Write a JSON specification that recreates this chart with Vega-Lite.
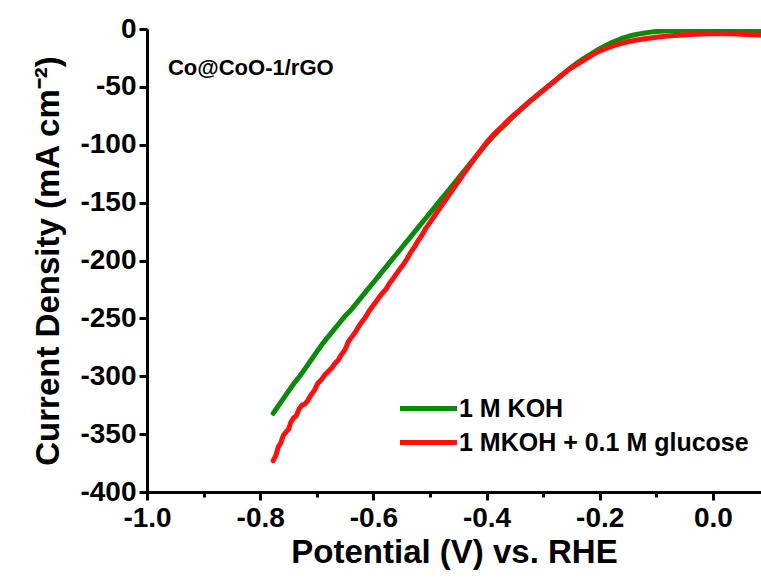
{
  "$schema": "https://vega.github.io/schema/vega-lite/v6.json",
  "width": 614,
  "height": 463,
  "autosize": {"type": "none"},
  "padding": {"left": 147, "top": 29, "right": 0, "bottom": 88},
  "background": "white",
  "config": {
    "view": {"stroke": null},
    "font": "Liberation Sans",
    "axis": {"grid": false, "domainColor": "black", "domainWidth": 3, "tickColor": "black", "tickWidth": 3,
      "labelFont": "Liberation Sans", "labelFontWeight": "bold", "labelFontSize": 28, "labelColor": "black",
      "titleFont": "Liberation Sans", "titleFontWeight": "bold", "titleFontSize": 33, "titleColor": "black"}
  },
  "datasets": {
    "curves": [
      {"V": -0.777, "j": -332, "s": "1 M KOH"},
      {"V": -0.770, "j": -327, "s": "1 M KOH"},
      {"V": -0.760, "j": -320, "s": "1 M KOH"},
      {"V": -0.750, "j": -313, "s": "1 M KOH"},
      {"V": -0.740, "j": -306, "s": "1 M KOH"},
      {"V": -0.730, "j": -300, "s": "1 M KOH"},
      {"V": -0.720, "j": -293, "s": "1 M KOH"},
      {"V": -0.710, "j": -286, "s": "1 M KOH"},
      {"V": -0.700, "j": -279, "s": "1 M KOH"},
      {"V": -0.690, "j": -272, "s": "1 M KOH"},
      {"V": -0.680, "j": -266, "s": "1 M KOH"},
      {"V": -0.670, "j": -260, "s": "1 M KOH"},
      {"V": -0.660, "j": -254, "s": "1 M KOH"},
      {"V": -0.650, "j": -248, "s": "1 M KOH"},
      {"V": -0.640, "j": -243, "s": "1 M KOH"},
      {"V": -0.630, "j": -237, "s": "1 M KOH"},
      {"V": -0.620, "j": -231, "s": "1 M KOH"},
      {"V": -0.610, "j": -225, "s": "1 M KOH"},
      {"V": -0.600, "j": -219, "s": "1 M KOH"},
      {"V": -0.590, "j": -213, "s": "1 M KOH"},
      {"V": -0.580, "j": -207, "s": "1 M KOH"},
      {"V": -0.570, "j": -201, "s": "1 M KOH"},
      {"V": -0.560, "j": -195, "s": "1 M KOH"},
      {"V": -0.550, "j": -189, "s": "1 M KOH"},
      {"V": -0.540, "j": -183, "s": "1 M KOH"},
      {"V": -0.530, "j": -177, "s": "1 M KOH"},
      {"V": -0.520, "j": -171, "s": "1 M KOH"},
      {"V": -0.510, "j": -165, "s": "1 M KOH"},
      {"V": -0.500, "j": -159, "s": "1 M KOH"},
      {"V": -0.490, "j": -153, "s": "1 M KOH"},
      {"V": -0.480, "j": -147, "s": "1 M KOH"},
      {"V": -0.470, "j": -141, "s": "1 M KOH"},
      {"V": -0.460, "j": -135, "s": "1 M KOH"},
      {"V": -0.450, "j": -129, "s": "1 M KOH"},
      {"V": -0.440, "j": -123, "s": "1 M KOH"},
      {"V": -0.430, "j": -117, "s": "1 M KOH"},
      {"V": -0.420, "j": -111, "s": "1 M KOH"},
      {"V": -0.410, "j": -105, "s": "1 M KOH"},
      {"V": -0.400, "j": -99, "s": "1 M KOH"},
      {"V": -0.390, "j": -93.5, "s": "1 M KOH"},
      {"V": -0.380, "j": -88.5, "s": "1 M KOH"},
      {"V": -0.370, "j": -84, "s": "1 M KOH"},
      {"V": -0.360, "j": -79, "s": "1 M KOH"},
      {"V": -0.350, "j": -74.5, "s": "1 M KOH"},
      {"V": -0.340, "j": -70, "s": "1 M KOH"},
      {"V": -0.330, "j": -65.5, "s": "1 M KOH"},
      {"V": -0.320, "j": -61, "s": "1 M KOH"},
      {"V": -0.310, "j": -57, "s": "1 M KOH"},
      {"V": -0.300, "j": -53, "s": "1 M KOH"},
      {"V": -0.290, "j": -49, "s": "1 M KOH"},
      {"V": -0.280, "j": -45, "s": "1 M KOH"},
      {"V": -0.270, "j": -41, "s": "1 M KOH"},
      {"V": -0.260, "j": -37, "s": "1 M KOH"},
      {"V": -0.250, "j": -33, "s": "1 M KOH"},
      {"V": -0.240, "j": -29.5, "s": "1 M KOH"},
      {"V": -0.230, "j": -26, "s": "1 M KOH"},
      {"V": -0.220, "j": -23, "s": "1 M KOH"},
      {"V": -0.210, "j": -20, "s": "1 M KOH"},
      {"V": -0.200, "j": -17, "s": "1 M KOH"},
      {"V": -0.190, "j": -14.5, "s": "1 M KOH"},
      {"V": -0.180, "j": -12, "s": "1 M KOH"},
      {"V": -0.170, "j": -10, "s": "1 M KOH"},
      {"V": -0.160, "j": -8, "s": "1 M KOH"},
      {"V": -0.150, "j": -6.5, "s": "1 M KOH"},
      {"V": -0.140, "j": -5.2, "s": "1 M KOH"},
      {"V": -0.130, "j": -4.2, "s": "1 M KOH"},
      {"V": -0.120, "j": -3.4, "s": "1 M KOH"},
      {"V": -0.110, "j": -2.7, "s": "1 M KOH"},
      {"V": -0.100, "j": -2.1, "s": "1 M KOH"},
      {"V": -0.080, "j": -1.5, "s": "1 M KOH"},
      {"V": -0.060, "j": -1.2, "s": "1 M KOH"},
      {"V": -0.040, "j": -1.0, "s": "1 M KOH"},
      {"V": -0.020, "j": -0.9, "s": "1 M KOH"},
      {"V": 0.000, "j": -1.0, "s": "1 M KOH"},
      {"V": 0.020, "j": -1.2, "s": "1 M KOH"},
      {"V": 0.040, "j": -1.5, "s": "1 M KOH"},
      {"V": 0.060, "j": -1.8, "s": "1 M KOH"},
      {"V": 0.085, "j": -2.2, "s": "1 M KOH"},
      {"V": -0.777, "j": -373, "s": "1 MKOH + 0.1 M glucose"},
      {"V": -0.772, "j": -368, "s": "1 MKOH + 0.1 M glucose"},
      {"V": -0.768, "j": -361, "s": "1 MKOH + 0.1 M glucose"},
      {"V": -0.764, "j": -358, "s": "1 MKOH + 0.1 M glucose"},
      {"V": -0.759, "j": -351, "s": "1 MKOH + 0.1 M glucose"},
      {"V": -0.754, "j": -348, "s": "1 MKOH + 0.1 M glucose"},
      {"V": -0.750, "j": -346, "s": "1 MKOH + 0.1 M glucose"},
      {"V": -0.746, "j": -340, "s": "1 MKOH + 0.1 M glucose"},
      {"V": -0.741, "j": -336, "s": "1 MKOH + 0.1 M glucose"},
      {"V": -0.736, "j": -334, "s": "1 MKOH + 0.1 M glucose"},
      {"V": -0.731, "j": -328, "s": "1 MKOH + 0.1 M glucose"},
      {"V": -0.726, "j": -325, "s": "1 MKOH + 0.1 M glucose"},
      {"V": -0.721, "j": -324, "s": "1 MKOH + 0.1 M glucose"},
      {"V": -0.716, "j": -321, "s": "1 MKOH + 0.1 M glucose"},
      {"V": -0.710, "j": -316, "s": "1 MKOH + 0.1 M glucose"},
      {"V": -0.704, "j": -312, "s": "1 MKOH + 0.1 M glucose"},
      {"V": -0.698, "j": -306, "s": "1 MKOH + 0.1 M glucose"},
      {"V": -0.692, "j": -303, "s": "1 MKOH + 0.1 M glucose"},
      {"V": -0.686, "j": -299, "s": "1 MKOH + 0.1 M glucose"},
      {"V": -0.680, "j": -296, "s": "1 MKOH + 0.1 M glucose"},
      {"V": -0.674, "j": -293, "s": "1 MKOH + 0.1 M glucose"},
      {"V": -0.668, "j": -289, "s": "1 MKOH + 0.1 M glucose"},
      {"V": -0.662, "j": -286, "s": "1 MKOH + 0.1 M glucose"},
      {"V": -0.656, "j": -281, "s": "1 MKOH + 0.1 M glucose"},
      {"V": -0.650, "j": -277, "s": "1 MKOH + 0.1 M glucose"},
      {"V": -0.644, "j": -270, "s": "1 MKOH + 0.1 M glucose"},
      {"V": -0.638, "j": -266, "s": "1 MKOH + 0.1 M glucose"},
      {"V": -0.632, "j": -262, "s": "1 MKOH + 0.1 M glucose"},
      {"V": -0.626, "j": -257, "s": "1 MKOH + 0.1 M glucose"},
      {"V": -0.620, "j": -253, "s": "1 MKOH + 0.1 M glucose"},
      {"V": -0.614, "j": -249, "s": "1 MKOH + 0.1 M glucose"},
      {"V": -0.608, "j": -244, "s": "1 MKOH + 0.1 M glucose"},
      {"V": -0.602, "j": -240, "s": "1 MKOH + 0.1 M glucose"},
      {"V": -0.596, "j": -236, "s": "1 MKOH + 0.1 M glucose"},
      {"V": -0.590, "j": -232, "s": "1 MKOH + 0.1 M glucose"},
      {"V": -0.584, "j": -228, "s": "1 MKOH + 0.1 M glucose"},
      {"V": -0.578, "j": -225, "s": "1 MKOH + 0.1 M glucose"},
      {"V": -0.572, "j": -220, "s": "1 MKOH + 0.1 M glucose"},
      {"V": -0.567, "j": -217, "s": "1 MKOH + 0.1 M glucose"},
      {"V": -0.560, "j": -212, "s": "1 MKOH + 0.1 M glucose"},
      {"V": -0.554, "j": -208, "s": "1 MKOH + 0.1 M glucose"},
      {"V": -0.548, "j": -204, "s": "1 MKOH + 0.1 M glucose"},
      {"V": -0.541, "j": -199, "s": "1 MKOH + 0.1 M glucose"},
      {"V": -0.534, "j": -193, "s": "1 MKOH + 0.1 M glucose"},
      {"V": -0.527, "j": -188, "s": "1 MKOH + 0.1 M glucose"},
      {"V": -0.521, "j": -183, "s": "1 MKOH + 0.1 M glucose"},
      {"V": -0.514, "j": -178, "s": "1 MKOH + 0.1 M glucose"},
      {"V": -0.507, "j": -172, "s": "1 MKOH + 0.1 M glucose"},
      {"V": -0.500, "j": -167, "s": "1 MKOH + 0.1 M glucose"},
      {"V": -0.490, "j": -160, "s": "1 MKOH + 0.1 M glucose"},
      {"V": -0.480, "j": -153, "s": "1 MKOH + 0.1 M glucose"},
      {"V": -0.470, "j": -146, "s": "1 MKOH + 0.1 M glucose"},
      {"V": -0.460, "j": -139, "s": "1 MKOH + 0.1 M glucose"},
      {"V": -0.450, "j": -132, "s": "1 MKOH + 0.1 M glucose"},
      {"V": -0.440, "j": -125, "s": "1 MKOH + 0.1 M glucose"},
      {"V": -0.430, "j": -118, "s": "1 MKOH + 0.1 M glucose"},
      {"V": -0.420, "j": -111, "s": "1 MKOH + 0.1 M glucose"},
      {"V": -0.410, "j": -104.5, "s": "1 MKOH + 0.1 M glucose"},
      {"V": -0.400, "j": -98, "s": "1 MKOH + 0.1 M glucose"},
      {"V": -0.390, "j": -92.5, "s": "1 MKOH + 0.1 M glucose"},
      {"V": -0.380, "j": -87.5, "s": "1 MKOH + 0.1 M glucose"},
      {"V": -0.370, "j": -83, "s": "1 MKOH + 0.1 M glucose"},
      {"V": -0.360, "j": -78, "s": "1 MKOH + 0.1 M glucose"},
      {"V": -0.350, "j": -73.5, "s": "1 MKOH + 0.1 M glucose"},
      {"V": -0.340, "j": -69.5, "s": "1 MKOH + 0.1 M glucose"},
      {"V": -0.330, "j": -65, "s": "1 MKOH + 0.1 M glucose"},
      {"V": -0.320, "j": -61, "s": "1 MKOH + 0.1 M glucose"},
      {"V": -0.310, "j": -57, "s": "1 MKOH + 0.1 M glucose"},
      {"V": -0.300, "j": -53, "s": "1 MKOH + 0.1 M glucose"},
      {"V": -0.290, "j": -49, "s": "1 MKOH + 0.1 M glucose"},
      {"V": -0.280, "j": -45, "s": "1 MKOH + 0.1 M glucose"},
      {"V": -0.270, "j": -41, "s": "1 MKOH + 0.1 M glucose"},
      {"V": -0.260, "j": -37, "s": "1 MKOH + 0.1 M glucose"},
      {"V": -0.250, "j": -33.5, "s": "1 MKOH + 0.1 M glucose"},
      {"V": -0.240, "j": -30.5, "s": "1 MKOH + 0.1 M glucose"},
      {"V": -0.230, "j": -27.5, "s": "1 MKOH + 0.1 M glucose"},
      {"V": -0.220, "j": -24.5, "s": "1 MKOH + 0.1 M glucose"},
      {"V": -0.210, "j": -21.5, "s": "1 MKOH + 0.1 M glucose"},
      {"V": -0.200, "j": -19, "s": "1 MKOH + 0.1 M glucose"},
      {"V": -0.190, "j": -17, "s": "1 MKOH + 0.1 M glucose"},
      {"V": -0.180, "j": -15.2, "s": "1 MKOH + 0.1 M glucose"},
      {"V": -0.170, "j": -13.6, "s": "1 MKOH + 0.1 M glucose"},
      {"V": -0.160, "j": -12.2, "s": "1 MKOH + 0.1 M glucose"},
      {"V": -0.150, "j": -11, "s": "1 MKOH + 0.1 M glucose"},
      {"V": -0.140, "j": -10, "s": "1 MKOH + 0.1 M glucose"},
      {"V": -0.120, "j": -8.4, "s": "1 MKOH + 0.1 M glucose"},
      {"V": -0.100, "j": -7.1, "s": "1 MKOH + 0.1 M glucose"},
      {"V": -0.080, "j": -6.1, "s": "1 MKOH + 0.1 M glucose"},
      {"V": -0.060, "j": -5.3, "s": "1 MKOH + 0.1 M glucose"},
      {"V": -0.040, "j": -4.7, "s": "1 MKOH + 0.1 M glucose"},
      {"V": -0.020, "j": -4.3, "s": "1 MKOH + 0.1 M glucose"},
      {"V": 0.000, "j": -4.1, "s": "1 MKOH + 0.1 M glucose"},
      {"V": 0.020, "j": -4.2, "s": "1 MKOH + 0.1 M glucose"},
      {"V": 0.040, "j": -4.4, "s": "1 MKOH + 0.1 M glucose"},
      {"V": 0.060, "j": -4.7, "s": "1 MKOH + 0.1 M glucose"},
      {"V": 0.085, "j": -5.1, "s": "1 MKOH + 0.1 M glucose"}
    ],
    "note": [{"label": "Co@CoO-1/rGO"}]
  },
  "layer": [
    {
      "data": {"name": "curves"},
      "mark": {"type": "line", "strokeWidth": 5, "clip": true, "strokeCap": "round", "strokeJoin": "round"},
      "encoding": {
        "x": {"field": "V", "type": "quantitative",
          "scale": {"domain": [-1.0, 0.085], "nice": false, "zero": false},
          "axis": {"title": "Potential (V) vs. RHE",
            "values": [-1.0, -0.9, -0.8, -0.7, -0.6, -0.5, -0.4, -0.3, -0.2, -0.1, 0.0],
            "labelExpr": "abs(round(datum.value*10)) % 2 === 0 ? replace(format(datum.value, '.1f'), '\u2212', '-') : ''",
            "tickSize": {"condition": {"test": "abs(round(datum.value*10)) % 2 === 0", "value": 8}, "value": 5},
            "labelPadding": 4, "titlePadding": 4, "labelFlush": false}},
        "y": {"field": "j", "type": "quantitative",
          "scale": {"domain": [-400, 0], "nice": false, "zero": false},
          "axis": {"title": "Current Density (mA cm\u207B\u00B2)",
            "values": [-400, -375, -350, -325, -300, -275, -250, -225, -200, -175, -150, -125, -100, -75, -50, -25, 0],
            "labelExpr": "datum.value % 50 === 0 ? replace(format(datum.value, 'd'), '\u2212', '-') : ''",
            "tickSize": {"condition": {"test": "datum.value % 50 === 0", "value": 8}, "value": 5},
            "labelPadding": 3, "titlePadding": 14, "labelFlush": false}},
        "color": {"field": "s", "type": "nominal",
          "scale": {"domain": ["1 M KOH", "1 MKOH + 0.1 M glucose"], "range": ["#0a8a0a", "#ff1010"]},
          "legend": {"title": null, "orient": "none", "legendX": 264, "legendY": 362,
            "symbolType": "M-1.9,0H1.9", "symbolSize": 900, "symbolStrokeWidth": 5,
            "labelFont": "Liberation Sans", "labelFontWeight": "bold", "labelFontSize": 25, "labelColor": "black",
            "labelLimit": 0, "labelOffset": 13, "rowPadding": 3}}
      }
    },
    {
      "mark": {"type": "rule", "color": "black", "strokeWidth": 3},
      "encoding": {"y": {"datum": 0}}
    },
    {
      "data": {"name": "note"},
      "mark": {"type": "text", "align": "left", "baseline": "middle", "font": "Liberation Sans", "fontWeight": "bold", "fontSize": 22, "color": "black"},
      "encoding": {"x": {"datum": -0.963}, "y": {"datum": -34}, "text": {"field": "label"}}
    }
  ]
}
